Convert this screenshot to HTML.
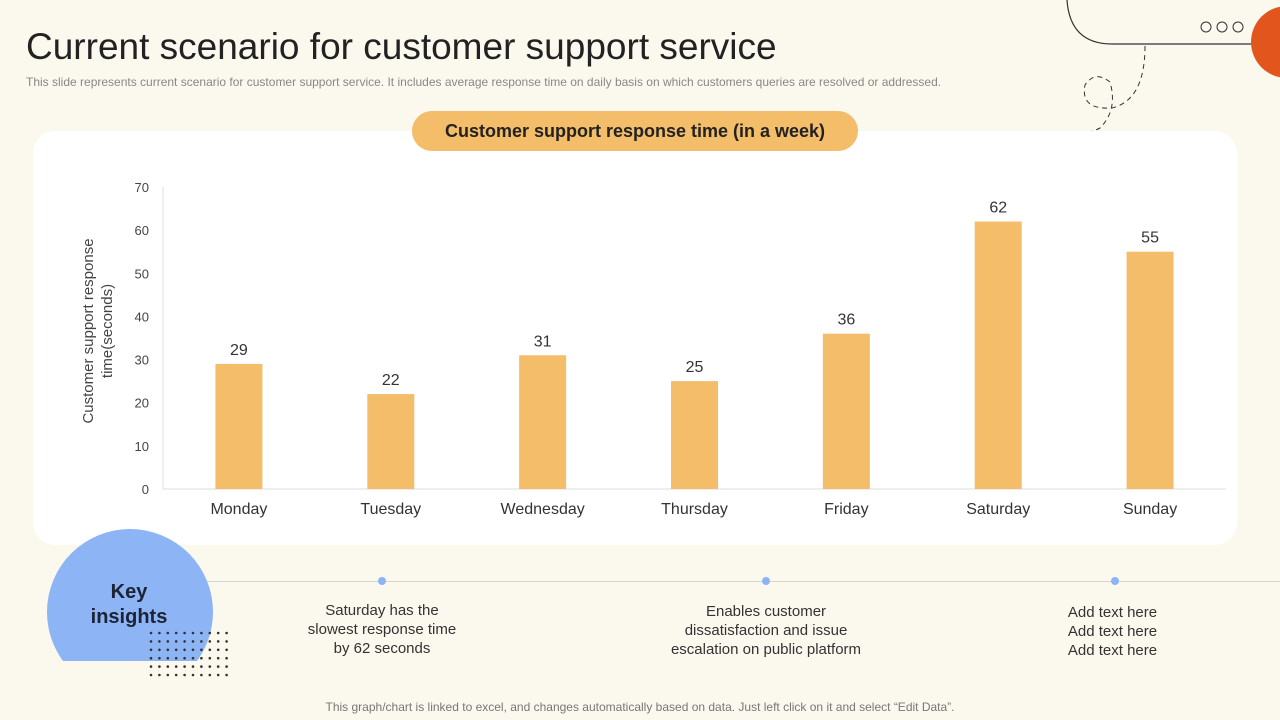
<!DOCTYPE html>
<html><head><meta charset="utf-8"><style>
body{margin:0;width:1280px;height:720px;background:#fbf8ee;font-family:"Liberation Sans",sans-serif;position:relative;overflow:hidden}
.abs{position:absolute}
</style></head><body>
<div class="abs" style="left:26px;top:26px;font-size:37px;color:#222">Current scenario for customer support service</div>
<div class="abs" style="left:26px;top:75px;font-size:12px;color:#888;white-space:nowrap">This slide represents current scenario for customer support service. It includes average response time on daily basis on which customers queries are resolved or addressed.</div>
<svg class="abs" style="left:0;top:0" width="1280" height="720">
<path d="M1067 0 Q1070 44 1112 44 L1260 44" fill="none" stroke="#333" stroke-width="1.2"/>
<circle cx="1206" cy="27" r="5" fill="none" stroke="#333"/><circle cx="1222" cy="27" r="5" fill="none" stroke="#333"/><circle cx="1238" cy="27" r="5" fill="none" stroke="#333"/>
<circle cx="1287" cy="42" r="36" fill="#e2561d"/>
<path d="M1145 46 Q1145 100 1112 108 Q1080 110 1085 85 Q1095 70 1110 82 Q1118 110 1100 128 Q1085 136 1057 133" fill="none" stroke="#333" stroke-dasharray="5,4"/>
</svg>
<div class="abs" style="left:33px;top:131px;width:1204px;height:414px;background:#fff;border-radius:22px"></div>
<div class="abs" style="left:412px;top:111px;width:446px;height:40px;background:#f3bd6a;border-radius:20px;text-align:center;line-height:40px;font-size:18px;font-weight:bold;color:#222">Customer support response time (in a week)</div>
<svg id="chart" class="abs" style="left:0;top:0" width="1280" height="560"></svg>
<div class="abs" style="left:200px;top:581px;width:1080px;height:1px;background:#d8d4cc"></div>
<svg class="abs" style="left:0;top:520px" width="300" height="170">
<defs><clipPath id="cp"><rect x="0" y="0" width="300" height="141"/></clipPath></defs>
<circle cx="130" cy="92" r="83" fill="#8db4f5" clip-path="url(#cp)"/>
<g id="dots" fill="#333"></g>
</svg>
<div class="abs" style="left:70px;top:580px;width:118px;text-align:center;font-size:20px;font-weight:bold;color:#1c2333;line-height:25px">Key<br>insights</div>
<svg class="abs" style="left:0;top:570px" width="1280" height="20">
<circle cx="382" cy="11" r="4" fill="#8db4f5"/><circle cx="766" cy="11" r="4" fill="#8db4f5"/><circle cx="1115" cy="11" r="4" fill="#8db4f5"/>
</svg>
<div class="abs" style="left:262px;top:601px;width:240px;text-align:center;font-size:15px;color:#333;line-height:19px;white-space:nowrap">Saturday has the<br>slowest response time<br>by 62 seconds</div>
<div class="abs" style="left:636px;top:602px;width:260px;text-align:center;font-size:15px;color:#333;line-height:19px;white-space:nowrap">Enables customer<br>dissatisfaction and issue<br>escalation on public platform</div>
<div class="abs" style="left:1030px;top:603px;width:165px;text-align:center;font-size:15px;color:#333;line-height:19px;white-space:nowrap">Add text here<br>Add text here<br>Add text here</div>
<div class="abs" style="left:0;top:700px;width:1280px;text-align:center;font-size:12px;color:#777">This graph/chart is linked to excel,  and changes automatically based on data. Just left click on it and select “Edit Data”.</div>
<script>
const categories=["Monday","Tuesday","Wednesday","Thursday","Friday","Saturday","Sunday"];
const values=[29,22,31,25,36,62,55];
const ticks=[0,10,20,30,40,50,60,70];
const NS="http://www.w3.org/2000/svg";
const svg=document.getElementById('chart');
const x0=163,x1=1226,y0=489,yTop=187,ymax=70;
const y=v=>y0-(v/ymax)*(y0-yTop);
const step=(x1-x0)/categories.length;
const xc=i=>x0+step*(i+0.5);
function mk(t,a,txt){const e=document.createElementNS(NS,t);for(const k in a)e.setAttribute(k,a[k]);if(txt!==undefined)e.textContent=txt;svg.appendChild(e);return e;}
let e=mk('line',{x1:x0,x2:x0,y1:yTop,y2:y0,stroke:'#ddd'});

e=mk('line',{x1:x0,x2:x1,y1:y0,y2:y0,stroke:'#ddd'});

ticks.forEach(t=>{const l=mk('text',{x:149,y:y(t)+5,'text-anchor':'end','font-size':13,fill:'#444'},t);

});
e=mk('text',{transform:'translate(93,331) rotate(-90)','text-anchor':'middle','font-size':15,fill:'#444'},'Customer support response');

e=mk('text',{transform:'translate(112,331) rotate(-90)','text-anchor':'middle','font-size':15,fill:'#444'},'time(seconds)');

const bw=47;
categories.forEach((c,i)=>{
 const b=mk('rect',{x:xc(i)-bw/2,y:y(values[i]),width:bw,height:y0-y(values[i]),fill:'#f3bd6a'});
 
 
 const v=mk('text',{x:xc(i),y:y(values[i])-9,'text-anchor':'middle','font-size':16,fill:'#333'},values[i]);
 
 
 const l=mk('text',{x:xc(i),y:514,'text-anchor':'middle','font-size':16,fill:'#333'},c);
 
 
});
const g=document.getElementById('dots');
for(let r=0;r<6;r++)for(let c=0;c<10;c++){const d=document.createElementNS(NS,'circle');d.setAttribute('cx',151+c*8.4);d.setAttribute('cy',113+r*8.4);d.setAttribute('r',1.3);g.appendChild(d);}
</script>
</body></html>
